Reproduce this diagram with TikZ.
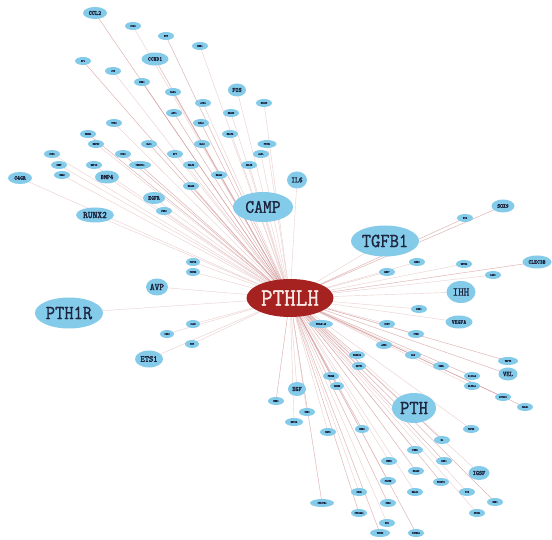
\documentclass[tikz,border=0pt]{standalone}
\usepackage{fontspec}
\newfontfamily\labfont[FakeStretch=0.9, FakeBold=1.2]{Latin Modern Mono}
\newfontfamily\labfontb[FakeStretch=0.9, FakeBold=2.2]{Latin Modern Mono}
\usetikzlibrary{shapes.geometric,backgrounds}
\definecolor{nodeblue}{RGB}{132,203,234}
\definecolor{hubred}{RGB}{166,34,32}
\definecolor{hubtext}{RGB}{246,232,228}
\definecolor{labink}{RGB}{28,36,62}
\definecolor{edgelight}{RGB}{234,206,206}
\definecolor{edgedark}{RGB}{192,104,104}
\begin{document}
\begin{tikzpicture}[x=1pt,y=-1pt,
  gene/.style={ellipse, fill=nodeblue, draw=none, inner sep=0pt, text=labink},
  gsize/.style 2 args={minimum width=#1pt, minimum height=#2pt},
  tiny/.style={gene, gsize={#1}{8}, font={\labfont\fontsize{2.7}{3}\selectfont}},
  lab/.style={gene, font={\labfontb\fontsize{#1}{#1}\selectfont}},
  big/.style={gene, font={\labfont\fontsize{#1}{#1}\selectfont}},
  hub/.style={ellipse, fill=hubred, draw=none, inner sep=0pt, text=hubtext,
    gsize={87}{38}, font={\labfont\fontsize{25}{25}\selectfont}},
  edge/.style={draw=edgelight, line width=0.4pt},
  edgeB/.style={draw=edgedark, line width=0.3pt, opacity=0.35}
]
\useasboundingbox (0,0) rectangle (552,540);

% hub
\node[hub] (PTHLH) at (290,298) {PTHLH};

% large labelled genes
\node[big=19, gsize={60}{30}] (CAMP) at (263,207) {CAMP};
\node[big=20, gsize={68}{31}] (TGFB1) at (385,241) {TGFB1};
\node[big=20, gsize={68}{31}] (PTH1R) at (69,313) {PTH1R};
\node[big=20, gsize={44}{30}] (PTH) at (414,408) {PTH};
\node[big=12, gsize={29}{22}] (IHH) at (461,292) {IHH};
\node[lab=10, gsize={38}{15}] (RUNX2) at (95,215) {RUNX2};
\node[lab=10, gsize={22}{17}] (AVP) at (157,287) {AVP};
\node[lab=9, gsize={28}{17}] (ETS1) at (149,359) {ETS1};
\node[lab=8, gsize={20}{17}] (IL6) at (297,180) {IL6};
\node[lab=6.5, gsize={24}{12}] (CCL2) at (95,13) {CCL2};
\node[lab=6, gsize={27}{13}] (CCND1) at (155,59) {CCND1};
\node[lab=6.5, gsize={18}{13}] (FOS) at (237,90) {FOS};
\node[lab=6.5, gsize={24}{13}] (BMP4) at (107,177) {BMP4};
\node[lab=6, gsize={24}{12}] (C4GR) at (20,178) {C4GR};
\node[lab=6, gsize={22}{12}] (EGFR) at (154,198) {EGFR};
\node[lab=6, gsize={23}{13}] (SOX9) at (503,206) {SOX9};
\node[lab=6, gsize={29}{13}] (CLEC3B) at (537,262) {CLEC3B};
\node[lab=6, gsize={27}{13}] (VEGFA) at (459,322) {VEGFA};
\node[lab=7, gsize={19}{13}] (VEL) at (508,374) {VEL};
\node[lab=6.5, gsize={18}{14}] (EGF) at (297,389) {EGF};
\node[lab=6.5, gsize={21}{14}] (IGSF) at (479,473) {IGSF};

% small genes
\foreach \x/\y/\w/\l [count=\i] in {
 133/26/16/SOX2, 166/36/16/MYC, 200/46/16/ESR1, 83/61/16/SP1, 113/71/16/JUN,
 142/82/16/EGR1, 173/92/16/KLF4, 203/103/16/ATF4, 264/103/16/STAT3, 174/113/16/AKT1,
 231/113/16/SMAD3, 114/123/16/TP53, 201/123/16/BCL2, 88/134/16/CREB1, 230/134/16/HDAC4,
 96/144/16/MEF2C, 149/144/16/GLI1, 202/144/16/GLI2, 267/144/19/PTCH1, 52/154/16/SOX5,
 123/154/16/SOX6, 175/154/16/SP7, 261/154/16/ALPL, 59/165/16/IBSP, 94/165/16/MMP13,
 140/165/22/TNFSF11, 191/165/16/CALCA, 249/165/16/CALCR, 62/175/16/GNAS, 219/175/16/NR4A1,
 191/186/16/NR4A2, 164/211/16/FGF2, 193/262/14/FGF18, 193/272/14/FGFR3, 167/334/14/IGF2,
 193/324/14/IL1B, 192/344/14/TNF, 465/218/16/NOG, 417/262/16/BMP2, 387/272/16/BMP7,
 464/264/16/WNT3A, 493/275/16/LRP5, 419/309/16/DKK1, 387/324/16/SOST, 416/334/16/CTSK,
 384/345/16/ACP5, 413/355/16/CA2, 321/324/24/PTHLH-AS, 357/355/16/PRKACA, 359/366/14/ADCY1,
 331/376/16/PDE4B, 337/386/14/CAMK2, 276/401/16/MEN1, 307/412/16/CDH1, 294/422/18/KRT14,
 328/432/16/KRT5, 362/429/14/EZH2, 359/492/16/CALR, 322/503/24/CYP27B1, 359/513/16/CYP24A1,
 441/366/16/CASR, 508/361/20/TRPV6, 472/376/16/S100A4, 472/386/16/SLC8A1, 503/397/16/ATP2B1,
 525/407/16/CALB1, 471/429/16/FGF23, 442/440/16/KL, 415/450/16/PHEX, 444/461/16/DMP1,
 389/461/16/MEPE, 416/471/16/SPARC, 388/481/16/POSTN, 441/482/16/TWIST1, 415/492/16/SNAI1,
 467/492/16/VIM, 388/503/16/CDH2, 495/502/16/ZEB1, 477/513/16/ITGB1, 387/523/16/FN1,
 380/533/20/TGFB2, 416/533/16/TGFBR1}
 { \node[tiny=\w] (s\i) at (\x,\y) {\l}; }

\begin{pgfonlayer}{background}
\fill[white] (0,0) rectangle (552,540);
\foreach \n in {CAMP,TGFB1,PTH1R,PTH,IHH,RUNX2,AVP,ETS1,IL6,CCL2,CCND1,FOS,BMP4,C4GR,
  EGFR,SOX9,CLEC3B,VEGFA,VEL,EGF,IGSF}
  { \draw[edge] (PTHLH.center) -- (\n.center); }
\foreach \i in {1,...,82}
  { \draw[edge] (PTHLH.center) -- (s\i.center); }
\foreach \n in {CCL2,CCND1,s2,s4,s6,s7,s10,s13,s14,s17,s21,s26,s27,s31,SOX9,s38,
  s48,s49,s51,s53,s57,s59,s60,s62,s63,s65,s66,s68,s70,s72,s74,s77,s78,s81,s82,CLEC3B,VEL}
  { \draw[edgeB] (PTHLH.center) -- (\n.center); }
\end{pgfonlayer}
\end{tikzpicture}
\end{document}
